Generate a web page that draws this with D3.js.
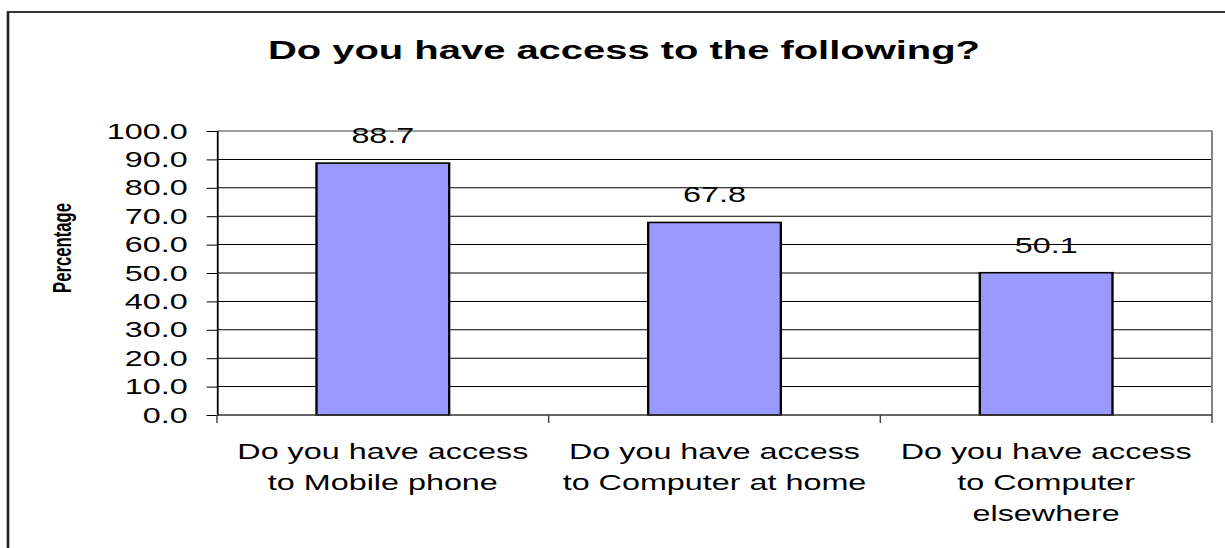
<!DOCTYPE html>
<html>
<head>
<meta charset="utf-8">
<script src="https://cdn.jsdelivr.net/npm/d3@7/dist/d3.min.js"></script>
<style>
  html, body { margin: 0; padding: 0; background: #fff; }
  svg { display: block; }
  text { font-family: "Liberation Sans", Arial, sans-serif; fill: #000; }
</style>
</head>
<body>
<svg id="chart"></svg>
<script>
// Chart data
const title = "Do you have access to the following?";
const yAxisTitle = "Percentage";
const categories = [
  "Do you have access to Mobile phone",
  "Do you have access to Computer at home",
  "Do you have access to Computer elsewhere"
];
const categoryLines = [
  ["Do you have access", "to Mobile phone"],
  ["Do you have access", "to Computer at home"],
  ["Do you have access", "to Computer", "elsewhere"]
];
const values = [88.7, 67.8, 50.1];
const yTicks = [0, 10, 20, 30, 40, 50, 60, 70, 80, 90, 100];

// The drawing is laid out on a narrower canvas and stretched wide,
// so glyphs and vertical strokes come out broad.
const W = 1225, H = 548, SX = 1.47;
const VW = W / SX;

const svg = d3.select("#chart")
  .attr("width", W)
  .attr("height", H)
  .attr("viewBox", `0 0 ${VW} ${H}`)
  .attr("preserveAspectRatio", "none");

const plot = { left: 217 / SX, right: 1212 / SX, top: 131, bottom: 415 };

// Outer chart frame (only left and top edges fall inside the canvas)
svg.append("rect")
  .attr("x", 8 / SX).attr("y", 12)
  .attr("width", VW + 20).attr("height", H + 20)
  .attr("fill", "#fff")
  .attr("stroke", "#222")
  .attr("stroke-width", 1.8);

const x = d3.scaleBand()
  .domain(categories)
  .range([plot.left, plot.right])
  .paddingInner(0.6)
  .paddingOuter(0.3);

const y = d3.scaleLinear()
  .domain([0, 100])
  .range([plot.bottom, plot.top]);

// Gridlines
svg.append("g")
  .selectAll("line")
  .data(yTicks.filter(d => d > 0 && d < 100))
  .join("line")
  .attr("x1", plot.left).attr("x2", plot.right)
  .attr("y1", d => y(d)).attr("y2", d => y(d))
  .attr("stroke", "#000")
  .attr("stroke-width", 1);

// Plot area border (top and right)
svg.append("path")
  .attr("d", `M${plot.left},${y(100)}H${plot.right}V${plot.bottom}`)
  .attr("fill", "none")
  .attr("stroke", "#808080")
  .attr("stroke-width", 1.3);

// Bars
svg.append("g")
  .selectAll("rect")
  .data(values)
  .join("rect")
  .attr("x", (d, i) => x(categories[i]))
  .attr("y", d => y(d))
  .attr("width", x.bandwidth())
  .attr("height", d => y(0) - y(d))
  .attr("fill", "#9999FF")
  .attr("stroke", "#000")
  .attr("stroke-width", 1.6);

// Value labels
svg.append("g")
  .selectAll("text")
  .data(values)
  .join("text")
  .attr("x", (d, i) => x(categories[i]) + x.bandwidth() / 2)
  .attr("y", d => y(d) - 20)
  .attr("text-anchor", "middle")
  .attr("font-size", 22)
  .text(d => d.toFixed(1));

// Y axis
const yAxis = svg.append("g")
  .attr("transform", `translate(${plot.left},0)`)
  .call(d3.axisLeft(y)
    .tickValues(yTicks)
    .tickFormat(d3.format(".1f"))
    .tickSize(10.3 / SX)
    .tickPadding(19 / SX));
yAxis.select(".domain").attr("stroke", "#000").attr("stroke-width", 1.2);
yAxis.selectAll(".tick line").attr("stroke", "#000").attr("stroke-width", 1);
yAxis.selectAll(".tick text")
  .attr("font-size", 22)
  .attr("font-family", "Liberation Sans, Arial, sans-serif")
  .attr("fill", "#000")
  .attr("dy", "0.32em");

// X axis with ticks on category boundaries
const boundaries = d3.range(categories.length + 1).map(i => plot.left + i * x.step());
const xAxis = svg.append("g");
xAxis.append("line")
  .attr("x1", plot.left).attr("x2", plot.right)
  .attr("y1", plot.bottom).attr("y2", plot.bottom)
  .attr("stroke", "#333").attr("stroke-width", 1.5);
xAxis.selectAll("line.tick")
  .data(boundaries)
  .join("line")
  .attr("class", "tick")
  .attr("x1", d => d).attr("x2", d => d)
  .attr("y1", plot.bottom).attr("y2", plot.bottom + 8)
  .attr("stroke", "#444").attr("stroke-width", 1);

// Category labels
const labels = svg.append("g")
  .selectAll("text")
  .data(categoryLines)
  .join("text")
  .attr("x", (d, i) => x(categories[i]) + x.bandwidth() / 2)
  .attr("y", 459)
  .attr("text-anchor", "middle")
  .attr("font-size", 22);
labels.selectAll("tspan")
  .data(d => d)
  .join("tspan")
  .attr("x", function () { return d3.select(this.parentNode).attr("x"); })
  .attr("dy", (d, i) => i === 0 ? 0 : 31)
  .text(d => d);

// Title
svg.append("text")
  .attr("x", 624 / SX)
  .attr("y", 59.5)
  .attr("text-anchor", "middle")
  .attr("font-size", 25)
  .attr("font-weight", "bold")
  .attr("textLength", 712 / SX)
  .attr("lengthAdjust", "spacingAndGlyphs")
  .text(title);

// Y axis title
svg.append("text")
  .attr("transform", `translate(${71 / SX},248) rotate(-90)`)
  .attr("text-anchor", "middle")
  .attr("font-size", 18)
  .attr("font-weight", "bold")
  .attr("textLength", 90)
  .attr("lengthAdjust", "spacingAndGlyphs")
  .text(yAxisTitle);
</script>
</body>
</html>
